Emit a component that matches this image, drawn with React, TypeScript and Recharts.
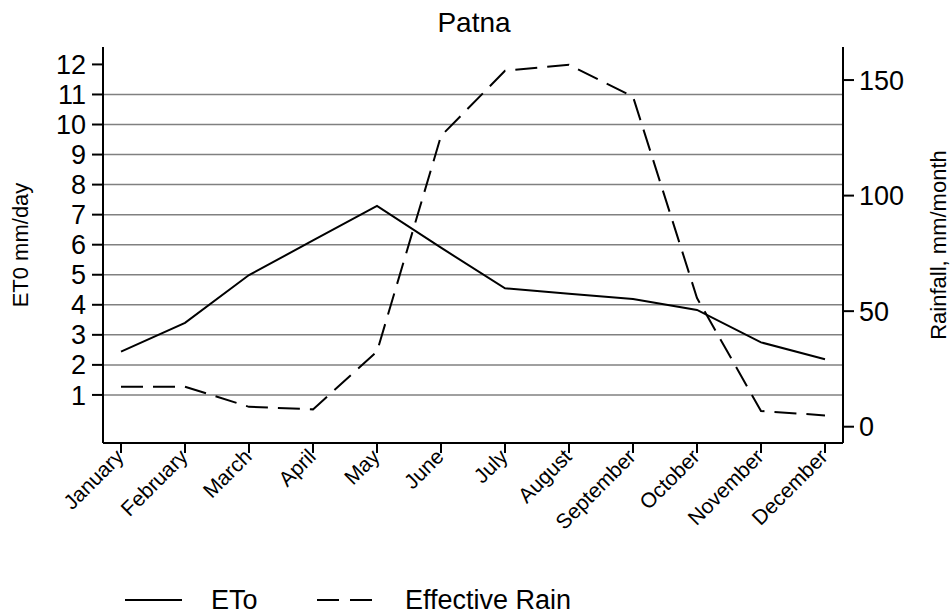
import React from 'react';
import { LineChart, Line, XAxis, YAxis, ReferenceLine, Legend, Customized } from 'recharts';

const months = ['January', 'February', 'March', 'April', 'May', 'June', 'July', 'August', 'September', 'October', 'November', 'December'];
const etoValues = [2.44, 3.40, 4.99, 6.14, 7.29, 5.90, 4.55, 4.37, 4.19, 3.83, 2.75, 2.19];
const rainValues = [17.3, 17.3, 8.6, 7.5, 32.5, 125.8, 154.0, 156.6, 142.8, 55.7, 6.8, 4.9];
const leftTicks = [1, 2, 3, 4, 5, 6, 7, 8, 9, 10, 11, 12];
const rightTicks = [0, 50, 100, 150];
const gridValues = [1, 2, 3, 4, 5, 6, 7, 8, 9, 10, 11];

const data = months.map((m, i) => ({ month: m, eto: etoValues[i], rain: rainValues[i] }));

const FONT = '"Liberation Sans", Arial, Helvetica, sans-serif';

const XTick = (props: any) => {
  const { x, y, payload } = props;
  const ax = x + 4;
  const ay = y + 3;
  return (
    <text
      x={ax}
      y={ay}
      transform={`rotate(-45, ${ax}, ${ay})`}
      textAnchor="end"
      fontSize={21}
      fill="#000"
      fontFamily={FONT}
    >
      {payload.value}
    </text>
  );
};

const LegendContent = () => (
  <svg width={952} height={40} style={{ display: 'block' }}>
    <line x1={125} x2={182} y1={25} y2={25} stroke="#000" strokeWidth={2} />
    <text x={211} y={34} fontSize={27} fontFamily={FONT} fill="#000">ETo</text>
    <line x1={317} x2={372} y1={25} y2={25} stroke="#000" strokeWidth={2} strokeDasharray="22 11" />
    <text x={405} y={34} fontSize={27} fontFamily={FONT} fill="#000">Effective Rain</text>
  </svg>
);

const Title = () => (
  <text x={474} y={32} textAnchor="middle" fontSize={28} fontFamily={FONT} fill="#000">
    Patna
  </text>
);

export default function App() {
  return (
    <div style={{ position: 'absolute', left: 0, top: 0, width: 952, height: 614, background: '#fff', fontFamily: FONT }}>
      <LineChart width={952} height={614} data={data} margin={{ top: 47, right: 0, bottom: 0, left: 0 }}>
        <XAxis
          dataKey="month"
          height={171}
          padding={{ left: 18, right: 18 }}
          tickSize={10}
          tick={<XTick />}
          interval={0}
          axisLine={{ stroke: '#000', strokeWidth: 2 }}
          tickLine={{ stroke: '#000', strokeWidth: 2 }}
        />
        <YAxis
          yAxisId="left"
          orientation="left"
          width={103}
          type="number"
          domain={[-0.6, 12.58]}
          allowDataOverflow
          ticks={leftTicks}
          interval={0}
          tickSize={11}
          tickMargin={6}
          tick={{ fontSize: 27, fill: '#000', fontFamily: FONT }}
          axisLine={{ stroke: '#000', strokeWidth: 2 }}
          tickLine={{ stroke: '#000', strokeWidth: 2 }}
          label={{ value: 'ET0 mm/day', angle: -90, position: 'center', dx: -31.5, fontSize: 22, fill: '#000', fontFamily: FONT }}
        />
        <YAxis
          yAxisId="right"
          orientation="right"
          width={109}
          type="number"
          domain={[-7.05, 164.3]}
          allowDataOverflow
          ticks={rightTicks}
          interval={0}
          tickSize={11}
          tickMargin={5}
          tick={{ fontSize: 27, fill: '#000', fontFamily: FONT }}
          axisLine={{ stroke: '#000', strokeWidth: 2 }}
          tickLine={{ stroke: '#000', strokeWidth: 2 }}
          label={{ value: 'Rainfall, mm/month', angle: -90, position: 'center', dx: 40.5, fontSize: 22, fill: '#000', fontFamily: FONT }}
        />
        {gridValues.map((v) => (
          <ReferenceLine key={v} yAxisId="left" y={v} stroke="#808080" strokeWidth={1.5} />
        ))}
        <Line
          yAxisId="left"
          type="linear"
          dataKey="eto"
          name="ETo"
          stroke="#000"
          strokeWidth={2}
          dot={false}
          activeDot={false}
          isAnimationActive={false}
        />
        <Line
          yAxisId="right"
          type="linear"
          dataKey="rain"
          name="Effective Rain"
          stroke="#000"
          strokeWidth={2}
          strokeDasharray="22 10"
          dot={false}
          activeDot={false}
          isAnimationActive={false}
        />
        <Legend
          layout="horizontal"
          verticalAlign="middle"
          align="center"
          content={<LegendContent />}
          wrapperStyle={{ position: 'absolute', left: 0, top: 575, width: 952, height: 40 }}
        />
        <Customized component={<Title />} />
      </LineChart>
    </div>
  );
}
